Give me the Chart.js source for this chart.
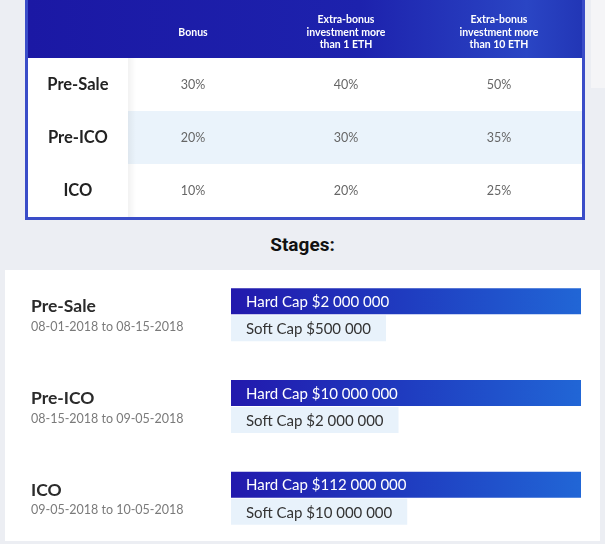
<!DOCTYPE html>
<html>
<head>
<meta charset="utf-8">
<script src="https://cdn.jsdelivr.net/npm/chart.js@4"></script>
<style>
  body { margin: 0; background: #eceef3; width: 605px; height: 544px; position: relative; overflow: hidden; font-family: Lato, sans-serif; }
  #tableBox { position: absolute; left: 25px; top: 0; width: 554px; height: 217px; border: 3px solid #3a4dc8; border-top: none; background: #fff; }
  #sideStrip { position: absolute; left: 591px; top: 0; width: 14px; height: 88px; background: #f5f5f7; }
  #title { position: absolute; left: 0; width: 605px; top: 233px; text-align: center; font: 700 19px Roboto, sans-serif; color: #111; }
  #panel { position: absolute; left: 5px; top: 270px; width: 595px; height: 271px; background: #fff; }
  #stagesBox { position: absolute; left: 0; top: 269px; width: 605px; height: 275px; }
</style>
</head>
<body>
<div id="sideStrip"></div>
<div id="tableBox"><canvas id="bonusChart" width="554" height="217"></canvas></div>
<div id="title">Stages:</div>
<div id="panel"></div>
<div id="stagesBox"><canvas id="stagesChart" width="605" height="275"></canvas></div>
<script>
// stages
const stages = ['Pre-Sale', 'Pre-ICO', 'ICO'];
const stageDates = ['08-01-2018 to 08-15-2018', '08-15-2018 to 09-05-2018', '09-05-2018 to 10-05-2018'];

// bonus table
const bonusHeaders = [
  ['Bonus'],
  ['Extra-bonus', 'investment more', 'than 1 ETH'],
  ['Extra-bonus', 'investment more', 'than 10 ETH'],
];
const bonus = [30, 20, 10];
const extraBonus1Eth = [40, 30, 20];
const extraBonus10Eth = [50, 35, 25];

// caps in USD
const hardCaps = [2000000, 10000000, 112000000];
const softCaps = [500000, 2000000, 10000000];

const fmtUsd = (v) => '$' + v.toLocaleString('en-US').replace(/,/g, ' ');
const hardLabels = hardCaps.map((v) => 'Hard Cap ' + fmtUsd(v));
const softLabels = softCaps.map((v) => 'Soft Cap ' + fmtUsd(v));

Chart.defaults.font.family = 'Lato, sans-serif';
Chart.defaults.animation = false;

// ---------- bonus table ----------
const cellText = {
  id: 'cellText',
  beforeDraw(chart) {
    const { ctx, chartArea, scales } = chart;
    ctx.save();
    // header band
    const g = ctx.createLinearGradient(0, 0, chart.width, 0);
    g.addColorStop(0, '#1b18a4');
    g.addColorStop(0.6, '#1d22ad');
    g.addColorStop(0.9, '#2a45c4');
    g.addColorStop(1, '#2236b6');
    ctx.fillStyle = g;
    ctx.fillRect(0, 0, chart.width, chartArea.top);
    // shaded middle row
    const step = (chartArea.bottom - chartArea.top) / stages.length;
    const yMid = scales.y.getPixelForValue(1);
    ctx.fillStyle = '#eaf3fb';
    ctx.fillRect(100, yMid - step / 2, chart.width - 100, step);
    // left column shadow
    const s = ctx.createLinearGradient(100, 0, 108, 0);
    s.addColorStop(0, 'rgba(0,0,0,0.05)');
    s.addColorStop(1, 'rgba(0,0,0,0)');
    ctx.fillStyle = s;
    ctx.fillRect(100, chartArea.top, 8, chart.height - chartArea.top);
    ctx.restore();
  },
  afterDatasetsDraw(chart) {
    const { ctx } = chart;
    ctx.save();
    ctx.font = '12.5px Lato, sans-serif';
    ctx.fillStyle = '#666';
    ctx.textAlign = 'center';
    ctx.textBaseline = 'middle';
    chart.data.datasets.forEach((ds, i) => {
      chart.getDatasetMeta(i).data.forEach((pt, j) => {
        ctx.fillText(ds.data[j].v + '%', pt.x, pt.y);
      });
    });
    ctx.restore();
  },
};

const cols = [bonus, extraBonus1Eth, extraBonus10Eth];
new Chart(document.getElementById('bonusChart'), {
  type: 'scatter',
  data: {
    datasets: cols.map((vals, c) => ({
      label: bonusHeaders[c].join(' '),
      data: vals.map((v, r) => ({ x: c, y: stages[r], v })),
      pointRadius: 0,
    })),
  },
  options: {
    responsive: false,
    layout: { padding: { left: 0, right: 6.5, top: 0, bottom: 0 } },
    plugins: { legend: { display: false }, tooltip: { enabled: false } },
    scales: {
      x: {
        type: 'linear',
        position: 'top',
        min: -0.5,
        max: 2.5,
        grid: { display: false },
        border: { display: false },
        afterBuildTicks: (scale) => { scale.ticks = [{ value: 0 }, { value: 1 }, { value: 2 }]; },
        afterFit: (scale) => { scale.height = 58; },
        ticks: {
          autoSkip: false,
          maxRotation: 0,
          crossAlign: 'center',
          padding: 5,
          color: '#ffffff',
          font: { size: 10.5, weight: 'bold', lineHeight: 1.22 },
          callback: (v) => bonusHeaders[v],
        },
      },
      y: {
        type: 'category',
        labels: stages,
        offset: true,
        grid: { display: false, offset: true },
        border: { display: false },
        afterFit: (scale) => {
          scale.width = 88.5;
          scale.paddingTop = 0;
          scale.paddingBottom = 0;
        },
        ticks: {
          crossAlign: 'center',
          padding: 0,
          color: '#222',
          font: { size: 16.5, weight: 'bold' },
        },
      },
    },
  },
  plugins: [cellText],
});

// ---------- stages: hard / soft cap bars ----------
const barFont = '15px Lato, sans-serif';
const barPad = 15;
const trackWidth = 605 - 231 - 24;
const measure = document.createElement('canvas').getContext('2d');
measure.font = barFont;
// hard cap box spans the whole track, soft cap box is sized to its label
const hardBox = hardLabels.map(() => 1);
const softBox = softLabels.map((t) => (measure.measureText(t).width + barPad * 2) / trackWidth);

const barText = {
  id: 'barText',
  afterDatasetsDraw(chart) {
    const { ctx } = chart;
    const texts = [hardLabels, softLabels];
    const colors = ['#ffffff', '#333333'];
    ctx.save();
    ctx.font = barFont;
    ctx.textBaseline = 'middle';
    texts.forEach((labels, i) => {
      chart.getDatasetMeta(i).data.forEach((bar, j) => {
        ctx.fillStyle = colors[i];
        ctx.fillText(labels[j], bar.base + barPad, bar.y + 1);
      });
    });
    // stage names and dates
    const y = chart.scales.y;
    stages.forEach((name, j) => {
      const cy = y.getPixelForValue(j);
      ctx.fillStyle = '#2b2b2b';
      ctx.font = 'bold 17.5px Lato, sans-serif';
      ctx.fillText(name, 31, cy - 8);
      ctx.fillStyle = '#7a7a7a';
      ctx.font = '12.5px Lato, sans-serif';
      ctx.fillText(stageDates[j], 31, cy + 12);
    });
    ctx.restore();
  },
};

new Chart(document.getElementById('stagesChart'), {
  type: 'bar',
  data: {
    labels: stages,
    datasets: [
      {
        label: 'Hard Cap',
        data: hardBox,
        backgroundColor: (c) => {
          const area = c.chart.chartArea;
          if (!area) return '#1f2db4';
          const g = c.chart.ctx.createLinearGradient(area.left, 0, area.right, 0);
          g.addColorStop(0, '#2219ad');
          g.addColorStop(0.5, '#1f3cc0');
          g.addColorStop(1, '#2166d6');
          return g;
        },
        categoryPercentage: 0.59,
        barPercentage: 0.963,
      },
      {
        label: 'Soft Cap',
        data: softBox,
        backgroundColor: '#e8f2fb',
        categoryPercentage: 0.59,
        barPercentage: 0.963,
      },
    ],
  },
  options: {
    indexAxis: 'y',
    responsive: false,
    layout: { padding: { left: 231, right: 24, top: 0, bottom: 0 } },
    plugins: { legend: { display: false }, tooltip: { enabled: false } },
    scales: {
      x: { display: false, min: 0, max: 1 },
      y: { display: false },
    },
  },
  plugins: [barText],
});
</script>
</body>
</html>
